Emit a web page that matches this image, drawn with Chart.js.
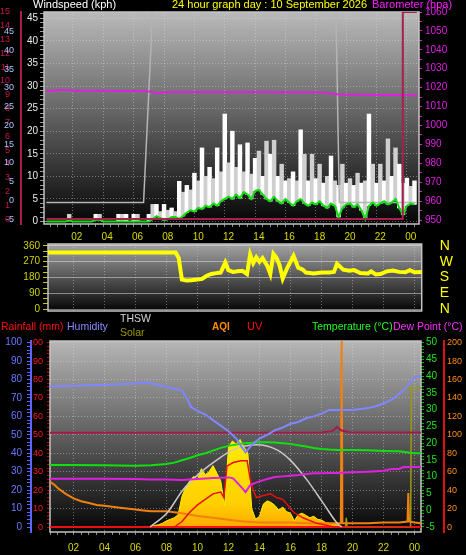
<!DOCTYPE html>
<html lang="en">
<head>
<meta charset="UTF-8">
<title>24 hour graph</title>
<script src="https://cdn.jsdelivr.net/npm/chart.js@4.4.1/dist/chart.umd.min.js"></script>
<style>
    body {
        margin: 0;
        background: #000;
        width: 466px;
        height: 555px;
        overflow: hidden;
        position: relative;
        font-family: "Liberation Sans", Arial, sans-serif;
    }
    canvas { position: absolute; left: 0; }
    .lbl { position: absolute; white-space: nowrap; line-height: 1; z-index: 5; }
    .title { font-size: 11px; top: -1px; }
    .leg { font-size: 10.5px; top: 321px; }
</style>
</head>
<body>
    <canvas id="windChart" width="466" height="245" style="top:0"></canvas>
    <canvas id="dirChart" width="466" height="74" style="top:240px"></canvas>
    <canvas id="dayChart" width="466" height="220" style="top:335px"></canvas>

    <div class="lbl title" style="left:33px;color:#fff">Windspeed (kph)</div>
    <div class="lbl title" style="left:172px;color:#ffff00">24 hour graph day : 10 September 2026</div>
    <div class="lbl title" style="left:372px;color:#ff20ff">Barometer (hpa)</div>

    <div class="lbl leg" style="left:1px;color:#ff1010">Rainfall (mm)</div>
    <div class="lbl leg" style="left:67px;color:#8a8aff">Humidity</div>
    <div class="lbl leg" style="left:120px;top:313px;color:#d4d4d4">THSW</div>
    <div class="lbl leg" style="left:120px;top:327px;color:#9a9a00">Solar</div>
    <div class="lbl leg" style="left:212px;top:322px;color:#ff8c00;font-size:10px;font-weight:bold">AQI</div>
    <div class="lbl leg" style="left:247px;color:#ff1010;font-size:11px">UV</div>
    <div class="lbl leg" style="left:312px;color:#20ff20">Temperature (°C)</div>
    <div class="lbl leg" style="left:393px;color:#ff30ff">Dew Point (°C)</div>

<script>
// x axis: hours of the day
const hourTicks = [2, 4, 6, 8, 10, 12, 14, 16, 18, 20, 22, 24];
const hourLabels = ['02', '04', '06', '08', '10', '12', '14', '16', '18', '20', '22', '00'];

// wind, 15 minute samples from 00:00 (kph)
const windAvg = [0, 0, 0, 0, 0, 0, 0.2, 0, 0, 0, 0, 0, 0, 0.4, 0.4, 0, 0, 0, 0, 0, 0, 0, 0, 0, 0, 0, 0, 0,
    0.5, 1.2, 0.8, 0.3, 0.5, 1.0, 1.0, 0.6,
    1.2, 2.0, 2.5, 2.2, 3.0, 2.8, 3.5, 3.2, 4.0, 3.5, 4.5, 5.0, 5.5, 5.0, 6.0, 5.2,
    6.5, 6.0, 5.0, 6.8, 7.0, 6.0, 5.0, 4.5, 5.5, 4.5, 4.0, 5.0, 4.2, 3.5, 4.5, 5.0,
    4.0, 3.5, 4.2, 3.8, 4.5, 3.5, 3.0, 4.0, 3.5, 1.0, 3.0, 3.8, 4.0, 3.2, 3.8, 2.5,
    0.5, 3.5, 4.2, 3.5, 4.0, 4.5, 3.8, 4.2, 5.0, 3.0, 1.5, 3.5, 4.0, 3.8];
const windGust = [0, 0, 0, 0, 0, 0, 1.6, 0, 0, 0, 0, 0, 0, 1.6, 1.6, 0, 0, 0, 0, 1.6, 1.6, 1.6, 0, 1.6, 1.6, 0, 0, 1.6,
    3.8, 3.8, 2.2, 3.8, 2.5, 3.0, 2.2, 8.9,
    6.5, 8.0, 7.0, 10.7, 9.0, 16.3, 10.0, 12.0, 9.5, 16.3, 11.0, 23.8, 13.0, 20.0, 12.0, 17.0,
    11.0, 17.4, 10.5, 14.0, 15.6, 10.0, 17.8, 14.9, 18.0, 10.0, 12.7, 9.0, 9.5, 11.0, 9.0, 20.3,
    14.9, 9.0, 14.9, 9.5, 12.7, 8.5, 10.0, 14.5, 9.0, 8.0, 12.7, 8.5, 9.5, 8.0, 10.7, 8.5,
    9.0, 23.8, 12.7, 8.5, 12.7, 9.0, 18.3, 10.0, 16.3, 12.7, 8.5, 9.6, 7.8, 9.0];

// grey daylight trace in the wind panel
const sunHours = [0, 6.4, 6.9, 7.05, 19.0, 19.3, 24.4];
const sunKph = [4.2, 4.2, 39.6, 60, 60, 4.2, 4.2];

// crimson trace on the left red scale
const rainHours = [0, 23.45, 23.48, 24.4];
const rainScale = [0, 0, 15, 15];

// barometer (hpa)
const baroHours = [0, 0.5, 1, 1.5, 2, 3, 4, 5, 6, 6.5, 7, 7.2, 7.5, 8, 9, 10, 11, 12, 13, 14, 15, 16, 17, 18, 18.5, 19, 19.5, 20, 21, 22, 23, 24, 24.4];
const baroHpa = [1018.4, 1018.4, 1018.9, 1018.6, 1018.4, 1018.3, 1018.3, 1018.2, 1018.2, 1018.1,
    1017.9, 1016.9, 1017.2, 1017.7, 1017.7, 1017.7, 1017.7, 1017.6, 1017.7, 1017.7,
    1017.6, 1017.6, 1017.6, 1017.5, 1017.2, 1016.6, 1016.3, 1016.2, 1016.2, 1016.1,
    1016.1, 1016.0, 1016.0];

// wind direction (degrees)
const dirHours = [0.3, 2, 4, 6, 8, 8.6, 8.8, 9.0, 9.3, 9.6, 10.0, 10.3, 10.6, 10.9, 11.2, 11.5, 11.8, 12.0, 12.3, 12.6,
    12.9, 13.2, 13.4, 13.6, 13.8, 14.0, 14.2, 14.5, 14.7, 14.9, 15.1, 15.3, 15.5, 15.8, 16.2, 16.5, 16.8, 17.0, 17.5, 18.0,
    18.5, 18.8, 19.0, 19.4, 19.8, 20.1, 20.5, 21.0, 21.2, 21.5, 21.8, 22.2, 22.6, 23.0, 23.4, 23.7, 24.0, 24.5];
const dirDeg = [322, 322, 322, 322, 322, 322, 290, 168, 163, 165, 168, 172, 190, 200, 205, 208, 266, 222, 212, 215,
    218, 200, 311, 262, 295, 270, 290, 247, 200, 315, 292, 250, 174, 236, 304, 236, 225, 208, 203, 208,
    208, 212, 258, 225, 219, 222, 205, 203, 215, 197, 200, 215, 220, 212, 210, 222, 210, 212];
const compassTicks = [0, 90, 180, 270, 360];
const compassLabels = ['N', 'E', 'S', 'W', 'N'];

// day panel
const humHours = [0.4, 1, 2, 3, 4, 5, 6, 6.5, 7, 7.5, 8, 8.5, 9, 9.3, 9.6, 10, 10.5, 11, 11.5, 12, 12.5, 12.8, 13.1, 13.4,
    13.7, 14, 14.5, 15, 15.5, 16, 16.5, 17, 17.5, 18, 18.5, 19, 19.5, 20, 20.5, 21, 21.5, 22, 22.5, 23, 23.5, 24, 24.5];
const humPct = [76, 76.5, 76.5, 77, 77, 77.5, 78, 78.5, 78, 77, 76, 75, 74, 70, 65, 63, 61, 58, 55, 52, 48, 44, 40.5, 43.5,
    46, 48, 50, 52.5, 54, 56, 57, 59, 60, 61.5, 63.5, 63.5, 63.5, 63.5, 64, 64.5, 65.5, 67, 69, 72, 76, 81, 82];

const tempHours = [0.4, 2, 4, 6, 7, 8, 8.5, 9, 9.5, 10, 10.5, 11, 11.5, 12, 12.5, 13, 13.5, 14, 14.5, 15, 15.5, 16, 16.5,
    17, 17.5, 18, 18.5, 19, 20, 21, 22, 23, 23.5, 24, 24.5];
const tempC = [13.5, 13.5, 13.4, 13.3, 13.4, 13.8, 14.2, 14.9, 15.6, 16.4, 17.0, 17.8, 18.6, 19.2, 19.6, 20.0, 20.1, 20.3,
    20.3, 20.2, 20.0, 19.8, 19.4, 19.0, 18.6, 18.3, 18.1, 18.0, 18.0, 17.9, 17.7, 17.6, 17.3, 17.0, 17.0];

const dewHours = [0.4, 2, 4, 6, 7, 8, 9, 10, 11, 12, 12.3, 12.6, 12.9, 13.1, 13.4, 13.7, 14, 14.5, 15, 15.5, 16, 16.5, 17,
    17.5, 18, 18.5, 19, 20, 21, 22, 22.5, 23, 23.3, 24, 24.5];
const dewC = [9.4, 9.4, 9.4, 9.3, 9.2, 9.2, 9.0, 9.3, 9.6, 9.8, 9.5, 8.0, 6.5, 5.4, 7.5, 8.1, 8.6, 9.3, 9.9, 10.1, 10.3,
    10.5, 10.8, 11.0, 11.0, 11.1, 11.1, 11.3, 11.5, 11.8, 12.3, 12.3, 12.9, 12.9, 12.9];

const indoorHours = [0.4, 18, 18.7, 19.0, 19.3, 19.8, 24.5];
const indoorC = [23.1, 23.2, 23.6, 24.8, 23.8, 23.3, 23.2];

const thswHours = [6.94, 8.03, 9.06, 10.16, 11.26, 12.29, 13.84, 15.13, 15.97, 17.06, 18.1, 19.0, 19.3];
const thswWm2 = [0, 91, 241, 352, 437, 502, 535, 502, 437, 307, 157, 26, 0];

// solar, 15 minute samples from 06:45 (W/m2)
const solarStart = 6.75;
const solarWm2 = [0, 5, 10, 15, 25, 40, 50, 60, 80, 200, 260, 300, 330, 310, 380, 340, 360, 400, 350, 300,
    140, 520, 560, 540, 570, 520, 480, 120, 50, 70, 150, 170, 160, 140, 110, 130, 100, 90, 40, 80,
    90, 75, 60, 70, 50, 45, 30, 25, 20, 15, 5, 0];
const solarMaxHours = [19.5, 19.55, 19.6, 19.65, 23.75, 23.8, 23.4, 24.5];
const solarMaxWm2 = [0, 0, 60, 0, 0, 905, 905, 905];

const uvHours = [0.4, 8.5, 9, 9.5, 10, 10.5, 11, 11.5, 11.7, 11.9, 12.3, 12.8, 13.2, 13.4, 13.6, 13.8, 14.2, 14.7, 15.1,
    15.5, 16.2, 16.8, 17.7, 18.3, 18.8, 24.5];
const uvIndex = [0, 0, 0.3, 0.8, 1.2, 1.5, 1.8, 1.9, 1.6, 3.3, 3.5, 3.6, 3.6, 2.6, 2.0, 1.6, 1.7, 1.8, 1.6, 1.5, 0.8,
    0.5, 0.2, 0.1, 0, 0];

const aqiHours = [0.4, 0.75, 1, 1.25, 1.5, 2, 2.5, 3, 3.5, 4, 5, 6, 6.5, 7, 8, 8.5, 9, 10, 11, 12, 13, 14, 15, 16, 17,
    18, 19, 19.25, 19.3, 19.35, 20, 21, 22, 23, 23.55, 23.6, 23.65, 24, 24.5];
const aqiValue = [50, 46, 42, 39, 36, 31, 28, 26, 24, 23, 21, 19, 18, 17, 17, 16, 15, 12, 10, 8, 6, 5, 5, 5, 4,
    4, 4, 4, 205, 4, 4, 4, 5, 5, 6, 37, 6, 5, 4];

const rainDayHours = [0.4, 24.5];
const rainDayMm = [0, 0];

// ---------------------------------------------------------------
const GRID = 'rgba(225,225,225,0.42)';
const NONE = 'rgba(0,0,0,0)';
Chart.defaults.font.family = "'Liberation Sans', Arial, sans-serif";
Chart.defaults.animation = false;
Chart.defaults.elements.point.radius = 0;
Chart.defaults.elements.line.tension = 0;
Chart.defaults.plugins.legend.display = false;
Chart.defaults.plugins.tooltip.enabled = false;

const pts = (xs, ys) => xs.map((x, i) => ({x: x, y: ys[i]}));
const isMult = (v, m) => Math.abs(v / m - Math.round(v / m)) < 1e-6;

function steps(from, to, step) {
    const out = [];
    for (let v = from; v <= to + 1e-9; v += step) out.push(+v.toFixed(3));
    return out;
}
function tickList(list) {
    return ax => { ax.ticks = list.map(v => ({value: v})); };
}
// fixed axis box size, no automatic padding
function fixSize(w, h) {
    return ax => {
        if (w !== undefined) ax.width = w;
        if (h !== undefined) ax.height = h;
        ax.paddingTop = ax.paddingBottom = ax.paddingLeft = ax.paddingRight = 0;
    };
}

function hourAxis(min, max, height, showLabels, labelPad) {
    return {
        type: 'linear', min: min, max: max,
        afterBuildTicks: tickList(steps(0, 24.5, 0.5).filter(v => v >= min && v <= max)),
        afterFit: fixSize(undefined, height),
        grid: {
            color: c => (c.tick && hourTicks.includes(c.tick.value)) ? GRID : NONE,
            tickColor: '#8a8a8a', tickLength: 3, drawTicks: showLabels
        },
        border: {display: false, dash: [1, 2]},
        ticks: {
            display: showLabels, autoSkip: false, maxRotation: 0, padding: labelPad,
            color: '#d8d800', font: {size: 10},
            callback: v => { const k = hourTicks.indexOf(v); return k < 0 ? '' : hourLabels[k]; }
        }
    };
}

// grey gradient plot background and light frame
function panel(topColor) {
    return {
        id: 'panel',
        beforeDraw(chart) {
            const {ctx, chartArea: a} = chart;
            const g = ctx.createLinearGradient(0, a.top, 0, a.bottom);
            g.addColorStop(0, topColor);
            g.addColorStop(1, '#050505');
            ctx.save();
            ctx.fillStyle = g;
            ctx.fillRect(a.left, a.top, a.width, a.height);
            ctx.restore();
        },
        beforeDatasetsDraw(chart) {
            const {ctx, chartArea: a} = chart;
            ctx.save();
            ctx.strokeStyle = '#c4c4c4';
            ctx.lineWidth = 1.5;
            ctx.strokeRect(a.left, a.top, a.width, a.height);
            ctx.restore();
        }
    };
}

// ---- wind / barometer
new Chart(document.getElementById('windChart'), {
    type: 'line',
    data: {
        datasets: [
            {label: 'Rain', data: pts(rainHours, rainScale), yAxisID: 'yRed', borderColor: '#a8204c', borderWidth: 2, order: 1},
            {label: 'Wind avg', data: windAvg.map((v, i) => ({x: i * 0.25, y: v})), yAxisID: 'yWind', borderColor: '#10e010', borderWidth: 2, order: 2},
            {label: 'Barometer', data: pts(baroHours, baroHpa), yAxisID: 'yBaro', borderColor: '#e020e0', borderWidth: 2, order: 3},
            {label: 'Daylight', data: pts(sunHours, sunKph), yAxisID: 'yWind', borderColor: '#b4b4b4', borderWidth: 1.5, order: 4},
            {
                type: 'bar', label: 'Gust', yAxisID: 'yWind', order: 5,
                data: windGust.map((v, i) => ({x: i * 0.25, y: [windAvg[i], v]})),
                backgroundColor: c => c.dataIndex % 2 ? '#ffffff' : '#cfcfcf',
                barPercentage: 1, categoryPercentage: 1, grouped: false
            }
        ]
    },
    options: {
        responsive: false,
        layout: {padding: {top: 12, left: 0, right: 0, bottom: 0}},
        scales: {
            x: hourAxis(0.097, 24.29, 21, true, 4),
            yRed: {
                position: 'left', weight: 3, min: -0.36, max: 15,
                afterBuildTicks: tickList(steps(0, 15, 1)),
                afterFit: fixSize(21),
                grid: {display: false},
                border: {display: true, color: '#b01848', width: 2},
                ticks: {color: '#c8184a', font: {size: 9}, padding: 3, autoSkip: false}
            },
            yBlue: {
                position: 'left', weight: 4, min: -6.33, max: 50.26,
                afterBuildTicks: tickList(steps(-5, 45, 5)),
                afterFit: fixSize(0),
                grid: {display: false},
                border: {display: false},
                ticks: {mirror: true, crossAlign: 'far', padding: 4, color: '#aac6ff', font: {size: 9}, autoSkip: false}
            },
            yWind: {
                position: 'left', weight: 1, min: -0.55, max: 46.4,
                afterBuildTicks: tickList(steps(0, 46, 1)),
                afterFit: fixSize(23),
                grid: {color: c => (c.tick && isMult(c.tick.value, 5)) ? GRID : NONE, tickColor: '#9a9a9a', tickLength: 4},
                border: {display: false, dash: [1, 2]},
                ticks: {color: '#eaeaea', font: {size: 10}, padding: 2, autoSkip: false, callback: v => isMult(v, 5) ? v : ''}
            },
            yBaro: {
                position: 'right', min: 947.9, max: 1060,
                afterBuildTicks: tickList(steps(950, 1060, 5)),
                afterFit: fixSize(47),
                grid: {drawOnChartArea: false, tickColor: '#d020d0', tickLength: 3},
                border: {display: false},
                ticks: {color: '#e020e0', font: {size: 10}, padding: 3, autoSkip: false, callback: v => isMult(v, 10) ? v : ''}
            }
        }
    },
    plugins: [panel('#bababa')]
});

// ---- wind direction
new Chart(document.getElementById('dirChart'), {
    type: 'line',
    data: {
        datasets: [
            {label: 'Direction', data: pts(dirHours, dirDeg), yAxisID: 'yDir', borderColor: '#ffff00', borderWidth: 4}
        ]
    },
    options: {
        responsive: false,
        layout: {padding: {top: 4, left: 0, right: 0, bottom: 0}},
        scales: {
            x: hourAxis(0.37, 24.46, 3, false, 0),
            yDir: {
                position: 'left', min: -11, max: 371,
                afterBuildTicks: tickList(steps(0, 360, 30)),
                afterFit: fixSize(48),
                grid: {color: c => (c.tick && isMult(c.tick.value, 90)) ? 'rgba(230,230,230,0.5)' : NONE, tickColor: '#c8c800', tickLength: 5},
                border: {display: false},
                ticks: {color: '#d0d000', font: {size: 10}, padding: 3, autoSkip: false, callback: v => isMult(v, 90) ? v : ''}
            },
            yCompass: {
                position: 'right', min: -11, max: 371,
                afterBuildTicks: tickList(compassTicks),
                afterFit: fixSize(44.3),
                grid: {display: false},
                border: {display: false},
                ticks: {color: '#ffff00', font: {size: 14}, padding: 10, autoSkip: false,
                    callback: v => compassLabels[compassTicks.indexOf(v)]}
            }
        }
    },
    plugins: [panel('#a4a4a4')]
});

// ---- day panel
new Chart(document.getElementById('dayChart'), {
    type: 'line',
    data: {
        datasets: [
            {label: 'Humidity', data: pts(humHours, humPct), yAxisID: 'yHum', borderColor: '#7f86ff', borderWidth: 2, order: 1},
            {label: 'Temperature', data: pts(tempHours, tempC), yAxisID: 'yTemp', borderColor: '#10e010', borderWidth: 2, order: 2},
            {label: 'Indoor', data: pts(indoorHours, indoorC), yAxisID: 'yTemp', borderColor: '#a8184c', borderWidth: 2, order: 3},
            {label: 'Dew Point', data: pts(dewHours, dewC), yAxisID: 'yTemp', borderColor: '#e020e0', borderWidth: 2, order: 4},
            {label: 'THSW', data: pts(thswHours, thswWm2), yAxisID: 'ySolar', borderColor: '#c8c8c8', borderWidth: 1.5,
                cubicInterpolationMode: 'monotone', order: 5},
            {label: 'UV', data: pts(uvHours, uvIndex), yAxisID: 'yUv', borderColor: '#e81010', borderWidth: 1.5, order: 6},
            {label: 'AQI', data: pts(aqiHours, aqiValue), yAxisID: 'yAqi', borderColor: '#f08010', borderWidth: 2, order: 7},
            {label: 'Solar max', data: pts(solarMaxHours, solarMaxWm2), yAxisID: 'ySolar', borderColor: '#9a9a10', borderWidth: 1.5, order: 8},
            {label: 'Rainfall', data: pts(rainDayHours, rainDayMm), yAxisID: 'yRain', borderColor: '#ff1010', borderWidth: 2, order: 9},
            {
                label: 'Solar', yAxisID: 'ySolar', order: 10,
                data: solarWm2.map((v, i) => ({x: solarStart + i * 0.25, y: v})),
                borderColor: '#ffec00', borderWidth: 1, fill: 'origin',
                backgroundColor: c => {
                    const a = c.chart.chartArea;
                    if (!a) return '#ffc000';
                    const g = c.chart.ctx.createLinearGradient(0, a.top + a.height * 0.5, 0, a.bottom);
                    g.addColorStop(0, '#ffee00');
                    g.addColorStop(0.7, '#ffd000');
                    g.addColorStop(1, '#ffa000');
                    return g;
                }
            }
        ]
    },
    options: {
        responsive: false,
        layout: {padding: {top: 6, left: 0, right: 0, bottom: 0}},
        scales: {
            x: hourAxis(0.484, 24.42, 23, true, 7),
            yHum: {
                position: 'left', weight: 2, min: -2.7, max: 100.9,
                afterBuildTicks: tickList(steps(0, 100, 2)),
                afterFit: fixSize(31),
                grid: {color: c => (c.tick && isMult(c.tick.value, 10)) ? GRID : NONE, tickColor: '#5a66ff', tickLength: 4},
                border: {display: true, color: '#5a66ff', width: 2, dash: [1, 2]},
                ticks: {color: '#6c78ff', font: {size: 10}, padding: 5, autoSkip: false, callback: v => isMult(v, 10) ? v : ''}
            },
            yRain: {
                position: 'left', weight: 1, min: -2.7, max: 100.9,
                afterBuildTicks: tickList(steps(0, 100, 2)),
                afterFit: fixSize(19),
                grid: {drawOnChartArea: false, tickColor: '#b00000', tickLength: 3},
                border: {display: false},
                ticks: {color: '#ff1a1a', font: {size: 9}, padding: 4, autoSkip: false, callback: v => isMult(v, 10) ? v : ''}
            },
            yTemp: {
                position: 'right', weight: 1, min: -6.5, max: 50.5,
                afterBuildTicks: tickList(steps(-5, 50, 1)),
                afterFit: fixSize(23),
                grid: {drawOnChartArea: false, tickColor: '#00b000', tickLength: 3},
                border: {display: false},
                ticks: {color: '#20e020', font: {size: 10}, padding: 2, autoSkip: false, callback: v => isMult(v, 5) ? v : ''}
            },
            yAqi: {
                position: 'right', weight: 2, min: -5.4, max: 201.8,
                afterBuildTicks: tickList(steps(0, 200, 20)),
                afterFit: fixSize(22),
                grid: {drawOnChartArea: false, drawTicks: false},
                border: {display: true, color: '#e01010', width: 2},
                ticks: {color: '#ff8c1a', font: {size: 9}, padding: 3, autoSkip: false}
            },
            yUv: {
                position: 'right', weight: 3, min: -0.27, max: 10.09,
                afterBuildTicks: tickList(steps(0, 10, 1)),
                afterFit: fixSize(0),
                grid: {display: false},
                border: {display: false},
                ticks: {mirror: true, padding: 10, color: '#e01010', font: {size: 9}, autoSkip: false}
            },
            ySolar: {position: 'left', display: false, min: -32.6, max: 1211}
        }
    },
    plugins: [panel('#b6b6b6')]
});
</script>
</body>
</html>
